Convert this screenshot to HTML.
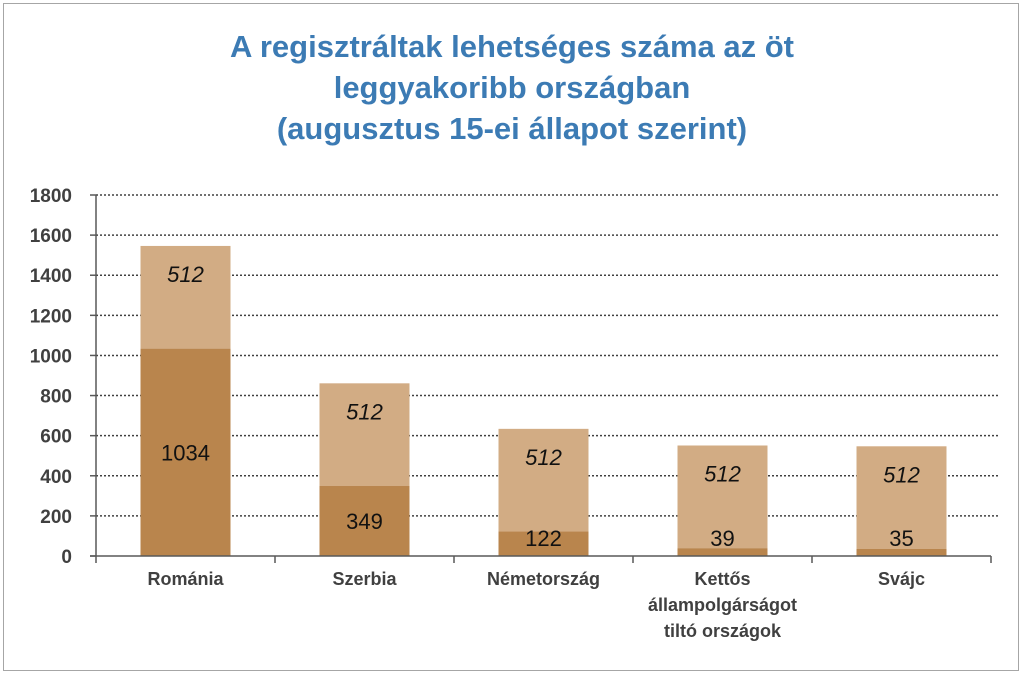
<!DOCTYPE html>
<html><head><meta charset="utf-8"><style>
body{margin:0;background:#fff;}
#wrap{position:relative;width:1024px;height:676px;overflow:hidden;font-family:"Liberation Sans",sans-serif;}
#frame{position:absolute;left:3px;top:3px;width:1016px;height:668px;border:1px solid #a6a6a6;box-sizing:border-box;}
#title{position:absolute;left:0;top:26px;width:1024px;text-align:center;color:#3c7bb4;font-weight:bold;font-size:31px;line-height:41px;}
</style></head><body>
<div id="wrap">
<div id="frame"></div>
<div id="title">A regisztráltak lehetséges száma az öt<br>leggyakoribb országban<br>(augusztus 15-ei állapot szerint)</div>
<svg id="chart" width="1024" height="676" style="position:absolute;left:0;top:0"></svg>
</div>
<script>
const categories=[["Románia"],["Szerbia"],["Németország"],["Kettős","állampolgárságot","tiltó országok"],["Svájc"]];
const baseValues=[1034,349,122,39,35];
const topValues=[512,512,512,512,512];
const tickLabels=[0,200,400,600,800,1000,1200,1400,1600,1800];
const NS="http://www.w3.org/2000/svg";
const svg=document.getElementById('chart');
const x0=96,catW=179,y0=556,yMax=1800,yTop=195,barW=90;
const y=v=>y0-(v/yMax)*(y0-yTop);
const cx=i=>x0+catW*(i+0.5);
function mk(t,a){const e=document.createElementNS(NS,t);for(const k in a)e.setAttribute(k,a[k]);svg.appendChild(e);return e;}
tickLabels.forEach(v=>{
 if(v>0){const g=mk('line',{x1:x0,x2:1000,y1:y(v),y2:y(v),stroke:'#404040','stroke-width':1.5,'stroke-dasharray':'2,2'});
 
 }
 const tk=mk('line',{x1:x0-6,x2:x0,y1:y(v),y2:y(v),stroke:'#595959','stroke-width':1.5});
 
 
 const t=mk('text',{x:72,y:y(v)+7,'text-anchor':'end','font-size':19,'font-weight':'bold',fill:'#404040'});
 t.textContent=v;
 
 
});
categories.forEach((c,i)=>{
 const b=baseValues[i],tp=topValues[i];
 const r2=mk('rect',{x:cx(i)-barW/2,y:y(b+tp),width:barW,height:y(b)-y(b+tp),fill:'#d2ac84'});
 
 
 const r1=mk('rect',{x:cx(i)-barW/2,y:y(b),width:barW,height:y0-y(b),fill:'#b9854d'});
 
 
 const lt=mk('text',{x:cx(i),y:y(b+tp)+36,'text-anchor':'middle','font-size':22,'font-style':'italic',fill:'#111'});
 lt.textContent=tp;
 
 
 const cy=Math.min((y(b)+y0)/2,y0-18);
 const lb=mk('text',{x:cx(i),y:cy+8,'text-anchor':'middle','font-size':22,fill:'#111'});
 lb.textContent=b;
 
 
 c.forEach((ln,j)=>{const t=mk('text',{x:cx(i),y:585+j*26,'text-anchor':'middle','font-size':18,'font-weight':'bold',fill:'#404040'});
 t.textContent=ln;
 
 });
});
for(let i=0;i<=5;i++){const t=mk('line',{x1:x0+catW*i,x2:x0+catW*i,y1:y0,y2:y0+7,stroke:'#595959','stroke-width':1.5});
 
 }
const ya=mk('line',{x1:x0,x2:x0,y1:yTop,y2:y0,stroke:'#595959','stroke-width':1.5});


const xa=mk('line',{x1:x0-6,x2:x0+catW*5,y1:y0,y2:y0,stroke:'#595959','stroke-width':1.5});


</script>
</body></html>
